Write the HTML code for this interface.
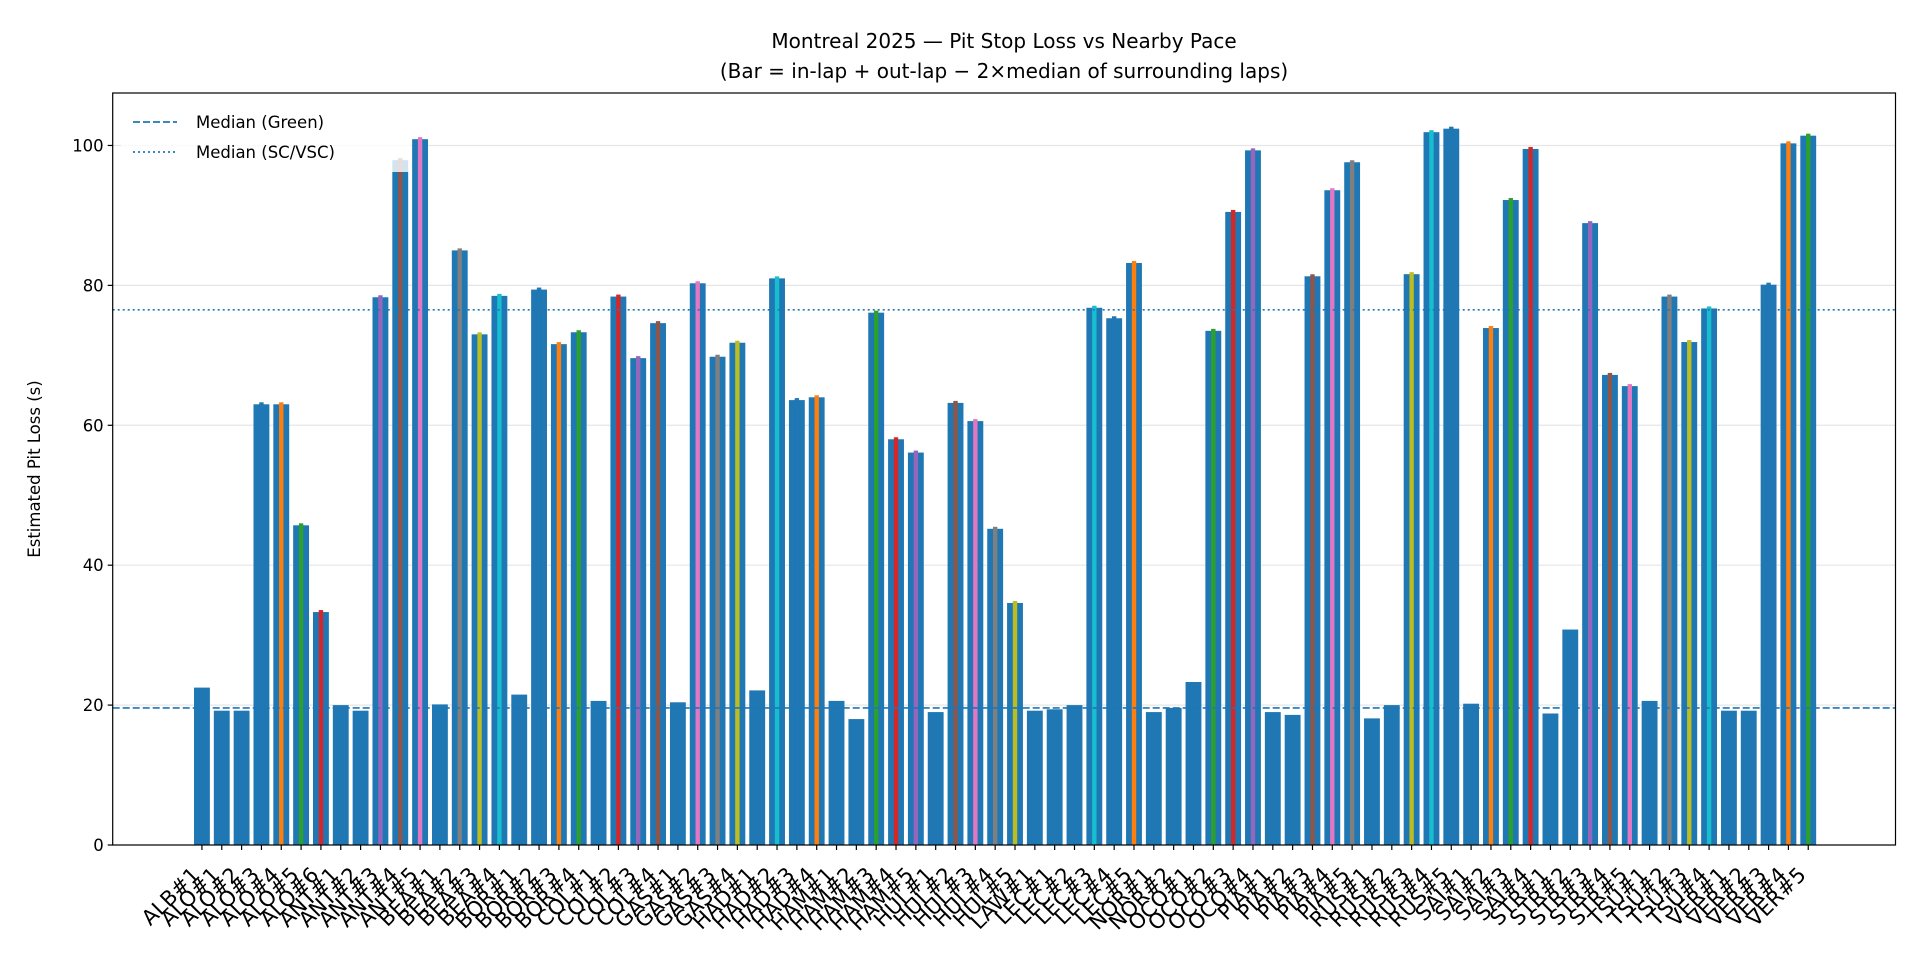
<!DOCTYPE html>
<html><head><meta charset="utf-8"><style>
body{margin:0;background:#fff;}
svg{display:block;font-family:"DejaVu Sans","Liberation Sans",sans-serif;}
</style></head><body>
<svg id="chart" width="1920" height="960" viewBox="0 0 1920 960" xmlns="http://www.w3.org/2000/svg">
<rect width="1920" height="960" fill="#fff"/>
<text x="1004" y="48" font-size="20" text-anchor="middle" fill="#000">Montreal 2025 — Pit Stop Loss vs Nearby Pace</text>
<text x="1004" y="78" font-size="20" text-anchor="middle" fill="#000">(Bar = in-lap + out-lap − 2×median of surrounding laps)</text>
<text x="0" y="0" font-size="16.5" text-anchor="middle" transform="translate(40,469) rotate(-90)">Estimated Pit Loss (s)</text>
<g id="grid"></g><g id="bars"></g><g id="lines"></g><g id="axes"></g>
<g id="legend">
<rect x="121" y="104" width="290" height="68" fill="#fff" fill-opacity="0.8" rx="3"/>
<line x1="133" y1="122" x2="177" y2="122" stroke="#1f77b4" stroke-width="1.8" stroke-dasharray="7,3"/>
<text x="196" y="128" font-size="16.5">Median (Green)</text>
<line x1="133" y1="152" x2="177" y2="152" stroke="#1f77b4" stroke-width="1.8" stroke-dasharray="2,3"/>
<text x="196" y="158" font-size="16.5">Median (SC/VSC)</text>
</g>
</svg>
<script>
const labels=["ALB#1","ALO#1","ALO#2","ALO#3","ALO#4","ALO#5","ALO#6","ANT#1","ANT#2","ANT#3","ANT#4","ANT#5","BEA#1","BEA#2","BEA#3","BEA#4","BOR#1","BOR#2","BOR#3","BOR#4","COL#1","COL#2","COL#3","COL#4","GAS#1","GAS#2","GAS#3","GAS#4","HAD#1","HAD#2","HAD#3","HAD#4","HAM#1","HAM#2","HAM#3","HAM#4","HAM#5","HUL#1","HUL#2","HUL#3","HUL#4","HUL#5","LAW#1","LEC#1","LEC#2","LEC#3","LEC#4","LEC#5","NOR#1","NOR#2","OCO#1","OCO#2","OCO#3","OCO#4","PIA#1","PIA#2","PIA#3","PIA#4","PIA#5","RUS#1","RUS#2","RUS#3","RUS#4","RUS#5","SAI#1","SAI#2","SAI#3","SAI#4","STR#1","STR#2","STR#3","STR#4","STR#5","TSU#1","TSU#2","TSU#3","TSU#4","VER#1","VER#2","VER#3","VER#4","VER#5"];
const values=[22.5,19.2,19.2,63.0,63.0,45.7,33.3,20.0,19.2,78.3,97.9,100.9,20.1,85.0,73.0,78.5,21.5,79.4,71.6,73.3,20.6,78.4,69.6,74.6,20.4,80.3,69.8,71.8,22.1,81.0,63.6,64.0,20.6,18.0,76.1,58.0,56.1,19.0,63.2,60.6,45.2,34.6,19.2,19.4,20.0,76.8,75.3,83.2,19.0,19.6,23.3,73.5,90.5,99.3,19.0,18.6,81.3,93.6,97.6,18.1,20.0,81.6,101.9,102.4,20.2,73.9,92.2,99.5,18.8,30.8,88.9,67.2,65.6,20.6,78.4,71.9,76.7,19.2,19.2,80.1,100.3,101.4];
const yTicks=[0,20,40,60,80,100];
const medianGreen=19.6;
const medianSC=76.5;
const palette=["#1f77b4","#ff7f0e","#2ca02c","#d62728","#9467bd","#8c564b","#e377c2","#7f7f7f","#bcbd22","#17becf"];
const NS="http://www.w3.org/2000/svg";
const L=112.7,R=1895.5,T=93,B=845;
const xMin=-4.5,xMax=85.4,yMax=107.5;
const xs=i=>L+(i-xMin)/(xMax-xMin)*(R-L);
const ys=v=>B-v/yMax*(B-T);
const bw=0.8*(R-L)/(xMax-xMin);
function mk(tag,attrs,parent){const e=document.createElementNS(NS,tag);for(const k in attrs)e.setAttribute(k,attrs[k]);parent.appendChild(e);return e;}
const grid=document.getElementById('grid'),bars=document.getElementById('bars'),lines=document.getElementById('lines'),axes=document.getElementById('axes');
yTicks.forEach(t=>{const g=mk('line',{x1:L,x2:R,y1:ys(t),y2:ys(t),stroke:'#e6e6e6','stroke-width':1.2},grid);

});
let ci=0;
values.forEach((v,i)=>{
const r=mk('rect',{x:xs(i)-bw/2,y:ys(v),width:bw,height:B-ys(v),fill:'#1f77b4'},bars);


if(v>32){const c=palette[ci%10];ci++;
const o=mk('rect',{x:xs(i)-2.2,y:ys(v)-2,width:4.4,height:B-ys(v)+2,fill:c},bars);

}
});
const g1=mk('line',{x1:L,x2:R,y1:ys(medianGreen),y2:ys(medianGreen),stroke:'#1f77b4','stroke-width':1.6,'stroke-dasharray':'7,3'},lines);


const g2=mk('line',{x1:L,x2:R,y1:ys(medianSC),y2:ys(medianSC),stroke:'#1f77b4','stroke-width':1.6,'stroke-dasharray':'2,3'},lines);


const fr=mk('rect',{x:L,y:T,width:R-L,height:B-T,fill:'none',stroke:'#000','stroke-width':1.2},axes);


yTicks.forEach(t=>{mk('line',{x1:L-5,x2:L,y1:ys(t),y2:ys(t),stroke:'#000','stroke-width':1.2},axes);
const tx=mk('text',{x:L-9,y:ys(t)+6,'font-size':16.5,'text-anchor':'end'},axes);tx.textContent=t;

});
labels.forEach((lab,i)=>{const x=xs(i);mk('line',{x1:x,x2:x,y1:B,y2:B+5,stroke:'#000','stroke-width':1.2},axes);
const tx=mk('text',{x:0,y:0,'font-size':21,'text-anchor':'end',transform:`translate(${x-1},${B+31}) rotate(-45)`},axes);tx.textContent=lab;

});
</script>
</body></html>
